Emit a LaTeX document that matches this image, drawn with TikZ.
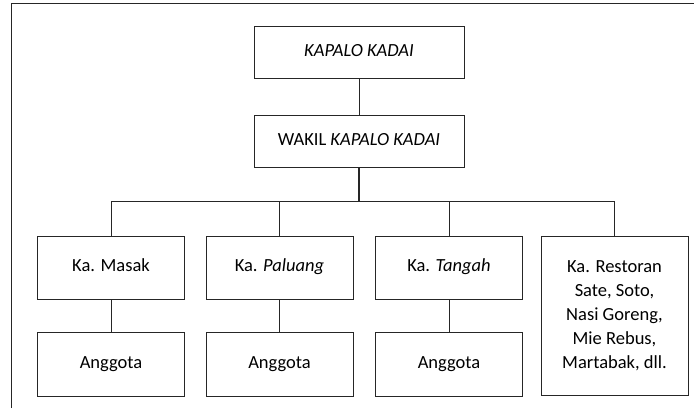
\documentclass[tikz,border=0pt]{standalone}
\usepackage{fontspec}
\setmainfont{Carlito}
\usetikzlibrary{positioning}

\begin{document}
\begin{tikzpicture}[x=1pt,y=-1pt,
    box/.style={draw=black!85, line width=0.8pt, minimum width=147pt, minimum height=63pt,
                inner sep=0pt, align=center, font=\fontsize{18.5}{23.8}\selectfont},
    onebox/.style={box, text height=12pt, text depth=4pt},
    topbox/.style={onebox, minimum width=210pt, minimum height=52pt},
    link/.style={draw=black!85, line width=0.8pt}]
    \useasboundingbox (0,0) rectangle (694,408);
    \draw[link] (11,408) |- (694,3);

    \node[topbox] at (359,52) (kapalo) {\textit{KAPALO KADAI}};
    \node[topbox] at (359,141.5) (wakil) {WAKIL \textit{KAPALO KADAI}};

    \node[onebox] at (111,267.5) (masak) {Ka. Masak};
    \node[onebox] at (279.5,267.5) (paluang) {Ka. \textit{Paluang}};
    \node[onebox] at (449,267.5) (tangah) {Ka. \textit{Tangah}};
    \node[box, minimum height=159.5pt] at (614.5,315.75) (restoran)
        {Ka. Restoran\\Sate, Soto,\\Nasi Goreng,\\Mie Rebus,\\Martabak, dll.};

    \node[onebox, minimum height=64pt, below=33pt of masak] (anggotaA) {Anggota};
    \node[onebox, minimum height=64pt, below=33pt of paluang] (anggotaB) {Anggota};
    \node[onebox, minimum height=64pt, below=33pt of tangah] (anggotaC) {Anggota};

    \coordinate (bus) at (359,201.5);
    \draw[link] (kapalo) -- (wakil);
    \draw[link, line width=1.6pt] (wakil) -- (bus);
    \draw[link, line width=1.1pt] (masak.north |- bus) -- (restoran.north |- bus);
    \foreach \n in {masak,paluang,tangah,restoran}
        \draw[link] (\n.north |- bus) -- (\n);
    \foreach \n/\m in {masak/anggotaA,paluang/anggotaB,tangah/anggotaC}
        \draw[link] (\n) -- (\m);
\end{tikzpicture}
\end{document}
